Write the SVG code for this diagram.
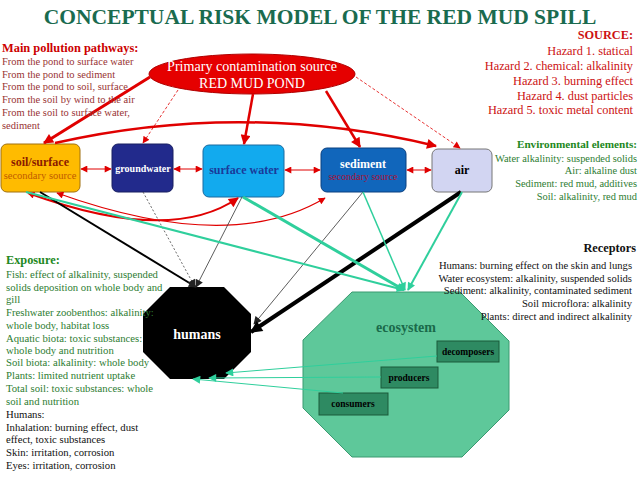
<svg xmlns="http://www.w3.org/2000/svg" width="640" height="480" viewBox="0 0 640 480">
<defs>
<style>
.t{font-family:"Liberation Serif","Times New Roman",serif}
.b{font-weight:bold}
.pw{fill:#993333;font-size:10.5px}
.hz{fill:#cc1111;font-size:12.3px}
.env{fill:#2e7d32;font-size:10.4px}
.exg{fill:#2e7d32;font-size:10.7px}
.exk{fill:#111;font-size:10.7px}
.rc{fill:#111;font-size:10.6px}
.red{stroke:#e00000;fill:none}
.teal{stroke:#2fcf9c;fill:none}
</style>
<marker id="ar" viewBox="0 0 10 10" refX="9" refY="5" markerWidth="11" markerHeight="10" markerUnits="userSpaceOnUse" orient="auto-start-reverse"><path d="M0,0 L10,5 L0,10 z" fill="#e00000"/></marker>
<marker id="arS" viewBox="0 0 10 10" refX="9" refY="5" markerWidth="8" markerHeight="7" markerUnits="userSpaceOnUse" orient="auto-start-reverse"><path d="M0,0 L10,5 L0,10 z" fill="#e00000"/></marker>
<marker id="ak" viewBox="0 0 10 10" refX="9" refY="5" markerWidth="14" markerHeight="12" markerUnits="userSpaceOnUse" orient="auto"><path d="M0,0 L10,5 L0,10 z" fill="#000"/></marker>
<marker id="akS" viewBox="0 0 10 10" refX="9" refY="5" markerWidth="9" markerHeight="8" markerUnits="userSpaceOnUse" orient="auto"><path d="M0,0 L10,5 L0,10 z" fill="#222"/></marker>
<marker id="at" viewBox="0 0 10 10" refX="9" refY="5" markerWidth="9" markerHeight="8" markerUnits="userSpaceOnUse" orient="auto"><path d="M0,0 L10,5 L0,10 z" fill="#2fcf9c"/></marker>
</defs>
<rect width="640" height="480" fill="#fff"/>

<g id="red-mud-pond">
<ellipse cx="252" cy="74" rx="103" ry="20" fill="#e50000" stroke="#b00000" stroke-width="1"/>
<text class="t" x="252" y="71" text-anchor="middle" font-size="14.1" fill="#fff">Primary contamination source</text>
<text class="t" x="252" y="88" text-anchor="middle" font-size="14" fill="#fff">RED MUD POND</text>
</g>

<g id="soil">
<rect x="1" y="144" width="79" height="48" rx="6" fill="#ffbb00" stroke="#a07010"/>
<text class="t b" x="40" y="166" text-anchor="middle" font-size="12" fill="#8b1a00">soil/surface</text>
<text class="t" x="40" y="179" text-anchor="middle" font-size="10.5" fill="#c05a00">secondary source</text>
</g>
<g id="groundwater">
<rect x="112" y="144" width="61" height="48" rx="6" fill="#222a8c" stroke="#181e60"/>
<text class="t b" x="143" y="172" text-anchor="middle" font-size="10" fill="#fff">groundwater</text>
</g>
<g id="surface-water">
<rect x="203" y="145" width="81" height="52" rx="6" fill="#12aaee" stroke="#1a6aa0"/>
<text class="t b" x="244" y="174" text-anchor="middle" font-size="12" fill="#1a3a9a">surface water</text>
</g>
<g id="sediment">
<rect x="321" y="148" width="85" height="44" rx="6" fill="#1166bb" stroke="#0a4080"/>
<text class="t b" x="363" y="168" text-anchor="middle" font-size="12" fill="#fff">sediment</text>
<text class="t" x="363" y="180" text-anchor="middle" font-size="10" fill="#aa1133">secondary source</text>
</g>
<g id="air">
<rect x="432" y="149" width="60" height="43" rx="6" fill="#d2d5f2" stroke="#777"/>
<text class="t b" x="462" y="174" text-anchor="middle" font-size="12" fill="#000">air</text>
</g>

<g id="humans">
<polygon points="170,287 224,287 251,314 251,352 224,379 170,379 143,352 143,314" fill="#000"/>
<text class="t b" x="197" y="339" text-anchor="middle" font-size="14" fill="#fff">humans</text>
</g>

<g id="ecosystem">
<polygon points="352,292 460,292 509,341 509,410 462,457 352,457 303,408 303,340" fill="#5ec89a" stroke="#3a9a70"/>
<text class="t b" x="406" y="332" text-anchor="middle" font-size="14" fill="#1a6a4a">ecosystem</text>
<g id="decomposers">
<rect x="437" y="341" width="62" height="21" fill="#2e8a62" stroke="#1a5a3a"/>
<text class="t b" x="468" y="355" text-anchor="middle" font-size="9.5" fill="#000">decomposers</text>
</g>
<g id="producers">
<rect x="381" y="367" width="57" height="21" fill="#2e8a62" stroke="#1a5a3a"/>
<text class="t b" x="409" y="381" text-anchor="middle" font-size="9.5" fill="#000">producers</text>
</g>
<g id="consumers">
<rect x="319" y="393" width="69" height="22" fill="#2e8a62" stroke="#1a5a3a"/>
<text class="t b" x="353" y="407" text-anchor="middle" font-size="9.5" fill="#000">consumers</text>
</g>
</g>

<g id="connectors">
<line class="red" x1="150" y1="77" x2="44" y2="143" stroke-width="3" marker-end="url(#ar)"/>
<line class="red" x1="178" y1="90" x2="143" y2="143" stroke-width="0.8" stroke-dasharray="3,2" marker-end="url(#arS)"/>
<line class="red" x1="253" y1="94" x2="244" y2="144" stroke-width="2.5" marker-end="url(#ar)"/>
<line class="red" x1="326" y1="91" x2="360" y2="147" stroke-width="2.5" marker-end="url(#ar)"/>
<line class="red" x1="356" y1="77" x2="460" y2="148" stroke-width="0.8" stroke-dasharray="3,2" marker-end="url(#arS)"/>
<path class="red" d="M55,143 Q245,100 436,146" stroke-width="2.5" marker-end="url(#ar)"/>
<line class="red" x1="81" y1="169" x2="111" y2="169" stroke-width="1" marker-start="url(#arS)" marker-end="url(#arS)"/>
<line class="red" x1="174" y1="169" x2="202" y2="169" stroke-width="1" marker-start="url(#arS)" marker-end="url(#arS)"/>
<line class="red" x1="285" y1="170" x2="320" y2="170" stroke-width="1" marker-start="url(#arS)" marker-end="url(#arS)"/>
<line class="red" x1="407" y1="170" x2="431" y2="170" stroke-width="1" marker-start="url(#arS)" marker-end="url(#arS)"/>
<path class="red" d="M28,193 Q170,245 238,198" stroke-width="2" marker-start="url(#arS)" marker-end="url(#ar)"/>
<path class="red" d="M57,193 Q230,255 325,198" stroke-width="1.2" marker-start="url(#arS)" marker-end="url(#arS)"/>
<line x1="40" y1="192" x2="196" y2="287" stroke="#000" stroke-width="2" marker-end="url(#akS)"/>
<line x1="143" y1="192" x2="195" y2="287" stroke="#444" stroke-width="0.8" stroke-dasharray="2,2" marker-end="url(#akS)"/>
<line x1="242" y1="197" x2="196" y2="287" stroke="#333" stroke-width="0.8" marker-end="url(#akS)"/>
<line x1="363" y1="192" x2="254" y2="324" stroke="#333" stroke-width="0.8" marker-end="url(#akS)"/>
<line x1="461" y1="192" x2="251" y2="332" stroke="#000" stroke-width="4" marker-end="url(#ak)"/>
<line class="teal" x1="26" y1="192" x2="404" y2="290" stroke-width="2" marker-end="url(#at)"/>
<line class="teal" x1="243" y1="197" x2="404" y2="290" stroke-width="3" marker-end="url(#at)"/>
<line class="teal" x1="363" y1="192" x2="405" y2="290" stroke-width="1.5" marker-end="url(#at)"/>
<line class="teal" x1="462" y1="192" x2="408" y2="290" stroke-width="2" marker-end="url(#at)"/>
<line class="teal" x1="437" y1="356" x2="226" y2="373" stroke-width="1" marker-end="url(#at)"/>
<line class="teal" x1="381" y1="377" x2="209" y2="378" stroke-width="1" marker-end="url(#at)"/>
<line class="teal" x1="343" y1="393" x2="193" y2="379" stroke-width="1" marker-end="url(#at)"/>
</g>

<text class="t b" x="320" y="24" text-anchor="middle" font-size="21.5" fill="#1a6b4f">CONCEPTUAL RISK MODEL OF THE RED MUD SPILL</text>

<g id="pathways-text" class="t">
<text x="2" y="52" class="b" font-size="12.4" fill="#cc0000">Main pollution pathways:</text>
<text x="2" y="65" class="pw">From the pond to surface water</text>
<text x="2" y="78" class="pw">From the pond to sediment</text>
<text x="2" y="90" class="pw">From the pond to soil, surface</text>
<text x="2" y="103" class="pw">From the soil by wind to the air</text>
<text x="2" y="116" class="pw">From the soil to surface water,</text>
<text x="2" y="129" class="pw">sediment</text>
</g>

<g id="source-text" class="t" text-anchor="end">
<text x="633" y="39" class="b" font-size="12.3" fill="#cc1111">SOURCE:</text>
<text x="633" y="55" class="hz">Hazard 1. statical</text>
<text x="633" y="70" class="hz">Hazard 2. chemical: alkalinity</text>
<text x="633" y="85" class="hz">Hazard 3. burning effect</text>
<text x="633" y="100" class="hz">Hazard 4. dust particles</text>
<text x="633" y="114" class="hz">Hazard 5. toxic metal content</text>
</g>

<g id="env-text" class="t" text-anchor="end">
<text x="637" y="148" class="b" font-size="11.2" fill="#228822">Environmental elements:</text>
<text x="637" y="162" class="env">Water alkalinity: suspended solids</text>
<text x="637" y="174" class="env">Air: alkaline dust</text>
<text x="637" y="187" class="env">Sediment: red mud, additives</text>
<text x="637" y="200" class="env">Soil: alkalinity, red mud</text>
</g>

<g id="receptors-text" class="t" text-anchor="end">
<text x="636" y="252" class="b" font-size="12.3" fill="#111">Receptors</text>
<text x="632" y="269" class="rc">Humans: burning effect on the skin and lungs</text>
<text x="632" y="282" class="rc">Water ecosystem: alkalinity, suspended solids</text>
<text x="632" y="294" class="rc">Sediment: alkalinity, contaminated sediment</text>
<text x="632" y="307" class="rc">Soil microflora: alkalinity</text>
<text x="632" y="320" class="rc">Plants: direct and indirect alkalinity</text>
</g>

<g id="exposure-text" class="t">
<text x="6" y="264" class="b" font-size="12.3" fill="#228822">Exposure:</text>
<text x="6" y="278" class="exg">Fish: effect of alkalinity, suspended</text>
<text x="6" y="291" class="exg">solids deposition on whole body and</text>
<text x="6" y="303" class="exg">gill</text>
<text x="6" y="316" class="exg">Freshwater zoobenthos: alkalinity:</text>
<text x="6" y="329" class="exg">whole body, habitat loss</text>
<text x="6" y="342" class="exg">Aquatic biota: toxic substances:</text>
<text x="6" y="354" class="exg">whole body  and nutrition</text>
<text x="6" y="366" class="exg">Soil biota: alkalinity: whole body</text>
<text x="6" y="379" class="exg">Plants: limited nutrient uptake</text>
<text x="6" y="392" class="exg">Total soil: toxic substances: whole</text>
<text x="6" y="405" class="exg">soil and nutrition</text>
<text x="6" y="418" class="exk">Humans:</text>
<text x="6" y="431" class="exk">Inhalation: burning effect, dust</text>
<text x="6" y="443" class="exk">effect, toxic substances</text>
<text x="6" y="456" class="exk">Skin: irritation, corrosion</text>
<text x="6" y="469" class="exk">Eyes: irritation, corrosion</text>
</g>
</svg>
